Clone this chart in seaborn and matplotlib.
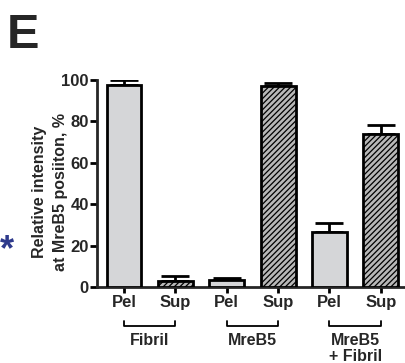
import pandas as pd
import matplotlib
matplotlib.use("Agg")
import matplotlib.pyplot as plt
import matplotlib.transforms as mtransforms
import seaborn as sns

groups = ["Fibril", "MreB5", "MreB5\n+ Fibril"]
fractions = ["Pel", "Sup"]
values = [97.3, 2.8, 3.3, 97.2, 26.5, 73.8]
errors = [2.4, 2.5, 1.1, 1.1, 4.3, 4.4]

df = pd.DataFrame({
    "sample": [g + " " + f for g in groups for f in fractions],
    "fraction": [f for g in groups for f in fractions],
    "value": values,
})

sns.set_style("ticks")
plt.rcParams["font.family"] = ["Liberation Sans", "DejaVu Sans"]
plt.rcParams["font.weight"] = "bold"
plt.rcParams["hatch.color"] = "#2a2a2a"
plt.rcParams["hatch.linewidth"] = 0.9

fig = plt.figure(figsize=(4.06, 3.63), dpi=100)
ax = fig.add_axes([0.239, 0.209, 0.761, 0.571])

sns.barplot(data=df, x="sample", y="value", order=df["sample"], errorbar=None,
            width=0.68, color="#d5d6d8", edgecolor="black", linewidth=2, ax=ax,
            zorder=3)
for patch, frac in zip(ax.patches, df["fraction"]):
    if frac == "Sup":
        patch.set_facecolor("#b8b8b8")
        patch.set_hatch("//////")

ax.errorbar(range(len(values)), values, yerr=[[0] * len(errors), errors], fmt="none",
            ecolor="black", elinewidth=2, capsize=10, capthick=2, zorder=2)

ax.set_xlim(-0.525, 5.49)
ax.set_ylim(0, 100)
ax.set_yticks([0, 20, 40, 60, 80, 100])
ax.set_xticks(range(len(values)))
ax.set_xticklabels(df["fraction"])
ax.tick_params(axis="both", width=2, length=5, labelsize=12, direction="out", color="black")
ax.tick_params(axis="x", length=4, pad=2)
ax.tick_params(axis="y", pad=1)
for lab in ax.get_xticklabels() + ax.get_yticklabels():
    lab.set_fontweight("bold")
ax.set_xlabel("")
ax.set_ylabel("Relative intensity\nat MreB5 posiiton, %", fontsize=11.5, fontweight="bold",
              linespacing=1.45)
ax.yaxis.set_label_coords(-0.095, 0.459)
sns.despine(ax=ax)
ax.spines["left"].set_linewidth(2)
ax.spines["bottom"].set_linewidth(2)

# group brackets under pairs
trans = mtransforms.blended_transform_factory(ax.transData, ax.transAxes)
for i, g in enumerate(groups):
    x0, x1 = 2 * i, 2 * i + 1
    ax.plot([x0, x0, x1, x1], [-0.163, -0.187, -0.187, -0.163], color="black", lw=1.3,
            transform=trans, clip_on=False)
    ax.text((x0 + x1) / 2, -0.222, g, transform=trans, ha="center", va="top",
            fontsize=11.5, fontweight="bold", linespacing=1.05)

fig.text(0.017, 0.965, "E", fontsize=35, fontweight="bold", ha="left", va="top")
fig.text(0.0, 0.31, "*", fontsize=26, fontweight="bold", color="#2e3a8c",
         ha="left", va="center")

fig.savefig("out.png", dpi=100)
